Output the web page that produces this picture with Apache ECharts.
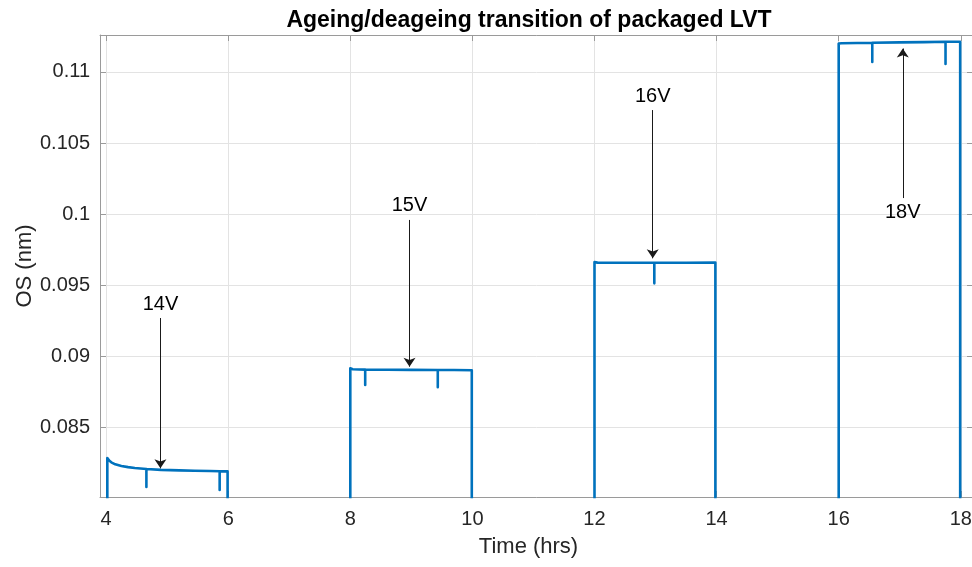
<!DOCTYPE html>
<html>
<head>
<meta charset="utf-8">
<script src="https://cdn.jsdelivr.net/npm/echarts@6/dist/echarts.min.js"></script>
<style>
  html, body { margin: 0; padding: 0; background: #ffffff; }
  #chart { width: 972px; height: 567px; }
</style>
</head>
<body>
<div id="chart"></div>
<script>
// Tick values for the time axis (hrs) and the OS axis (nm)
const timeTicks = [4, 6, 8, 10, 12, 14, 16, 18];
const osTicks = [0.085, 0.09, 0.095, 0.1, 0.105, 0.11];

// OS level while the device is deaged (below the plotted window)
const OFF = 0.0790;

// Ageing plateaus, one per stress voltage: [time (hrs), OS (nm)]
const stage14V = [
  [4.02, OFF], [4.02, 0.08284], [4.05, 0.08266], [4.085, 0.08254], [4.15, 0.08240],
  [4.25, 0.08228], [4.36, 0.08220], [4.47, 0.08214], [4.66, 0.08207], [4.66, 0.08080],
  [4.66, 0.08207], [4.90, 0.08201], [5.20, 0.08197], [5.45, 0.08195], [5.70, 0.08193],
  [5.86, 0.08191], [5.86, 0.08059], [5.86, 0.08191], [5.99, 0.08190], [5.99, OFF]
];
const stage15V = [
  [8.00, OFF], [8.00, 0.08915], [8.04, 0.08909], [8.244, 0.08906], [8.244, 0.08798],
  [8.244, 0.08906], [8.60, 0.08905], [9.00, 0.08904], [9.433, 0.08903], [9.433, 0.08782],
  [9.433, 0.08903], [9.70, 0.08903], [9.99, 0.08902], [9.99, OFF]
];
const stage16V = [
  [12.00, OFF], [12.00, 0.09662], [12.05, 0.09659], [12.50, 0.09658], [12.98, 0.09658],
  [12.98, 0.09513], [12.98, 0.09658], [13.50, 0.09658], [13.98, 0.09659], [13.98, OFF]
];
const stage18V = [
  [16.00, OFF], [16.00, 0.11200], [16.05, 0.11202], [16.30, 0.11204], [16.55, 0.11205],
  [16.55, 0.11070], [16.55, 0.11205], [17.00, 0.11208], [17.40, 0.11210], [17.75, 0.11212],
  [17.75, 0.11056], [17.75, 0.11212], [17.99, 0.11213], [17.99, OFF]
];

// Voltage call-outs: label, time of the arrow, OS at the tail and at the head
const arrowLabels = ['14V', '15V', '16V', '18V'];
const arrowTime = [4.89, 8.97, 12.954, 17.05];
const arrowTail = [0.09269, 0.09959, 0.10732, 0.10113];
const arrowTip = [0.08212, 0.08927, 0.09689, 0.11165];

// Axis limits
const X_MIN = 3.9, X_MAX = 18.2;
const Y_MIN = 0.0801, Y_MAX = 0.1126;

const FONT = '"Liberation Sans", Arial, Helvetica, sans-serif';
const AXIS_GREY = '#9a9a9a';
const TEXT_DARK = '#262626';
const GRID_GREY = '#e3e3e3';

const onTicks = ticks => v =>
  ticks.some(t => Math.abs(t - v) < 1e-7) ? String(parseFloat(v.toFixed(4))) : '';

const trace = [].concat(stage14V, stage15V, stage16V, stage18V);

const boxAxis = {
  axisLine: { show: true, onZero: false, lineStyle: { color: AXIS_GREY, width: 1 } },
  axisTick: { show: true, inside: true, length: 6, lineStyle: { color: AXIS_GREY } },
  axisLabel: { show: false },
  splitLine: { show: false }
};

const chart = echarts.init(document.getElementById('chart'), null, { renderer: 'canvas' });
chart.setOption({
  animation: false,
  backgroundColor: '#ffffff',
  title: {
    text: 'Ageing/deageing transition of packaged LVT',
    left: 524, top: 4, textAlign: 'center',
    textStyle: { fontFamily: FONT, fontSize: 23, fontWeight: 'bold', color: '#000000' }
  },
  grid: { left: 100, top: 35, width: 873, height: 462, outerBoundsMode: 'none', containLabel: false },
  xAxis: [
    {
      type: 'value', min: X_MIN, max: X_MAX, minInterval: 2, maxInterval: 2, position: 'bottom',
      axisLine: { show: true, onZero: false, lineStyle: { color: AXIS_GREY, width: 1 } },
      axisTick: { show: true, inside: true, length: 6, lineStyle: { color: AXIS_GREY } },
      axisLabel: { formatter: onTicks(timeTicks), color: TEXT_DARK, fontSize: 20, fontFamily: FONT, margin: 12 },
      splitLine: { show: true, lineStyle: { color: GRID_GREY, width: 1 } },
      name: 'Time (hrs)', nameLocation: 'middle', nameGap: 39, nameMoveOverlap: false,
      nameTextStyle: { fontFamily: FONT, fontSize: 22, color: TEXT_DARK, padding: [0, 16, 0, 0] }
    },
    Object.assign({ type: 'value', min: X_MIN, max: X_MAX, minInterval: 2, maxInterval: 2, position: 'top' }, boxAxis)
  ],
  yAxis: [
    {
      type: 'value', min: Y_MIN, max: Y_MAX, minInterval: 0.005, maxInterval: 0.005, position: 'left',
      axisLine: { show: true, onZero: false, lineStyle: { color: AXIS_GREY, width: 1 } },
      axisTick: { show: true, inside: true, length: 6, lineStyle: { color: AXIS_GREY } },
      axisLabel: { formatter: onTicks(osTicks), color: TEXT_DARK, fontSize: 20, fontFamily: FONT, margin: 10 },
      splitLine: { show: true, lineStyle: { color: GRID_GREY, width: 1 } },
      name: 'OS (nm)', nameLocation: 'middle', nameGap: 64, nameRotate: 90, nameMoveOverlap: false,
      nameTextStyle: { fontFamily: FONT, fontSize: 22, color: TEXT_DARK }
    },
    Object.assign({ type: 'value', min: Y_MIN, max: Y_MAX, minInterval: 0.005, maxInterval: 0.005, position: 'right' }, boxAxis)
  ],
  series: [
    {
      type: 'line',
      xAxisIndex: 0, yAxisIndex: 0,
      data: trace,
      showSymbol: false, symbol: 'none',
      clip: true,
      lineStyle: { color: '#0072BD', width: 2.6, join: 'round', cap: 'round' },
      itemStyle: { color: '#0072BD' },
      emphasis: { disabled: true },
      markLine: {
        silent: true,
        animation: false,
        symbol: ['none', 'arrow'],
        symbolSize: 9,
        lineStyle: { color: '#1a1a1a', width: 1, type: 'solid' },
        label: {
          show: true, position: 'start', formatter: '{b}', distance: 4,
          fontFamily: FONT, fontSize: 20, color: '#000000'
        },
        emphasis: { disabled: true },
        data: arrowLabels.map((name, i) => [
          { name: name, coord: [arrowTime[i], arrowTail[i]] },
          { coord: [arrowTime[i], arrowTip[i]] }
        ])
      }
    }
  ]
});
</script>
</body>
</html>
